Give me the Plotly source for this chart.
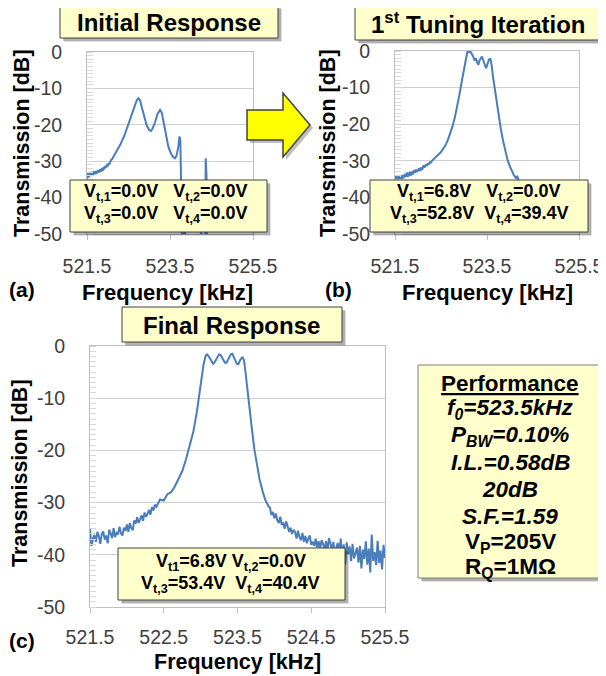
import plotly.graph_objects as go

# page has an 8px body margin: figure is drawn 8px in from the top-left corner
OFF = 8
W, H = 606 - OFF, 676 - OFF
def px(x): return (x - OFF) / W
def py(y): return 1 - (y - OFF) / H

BLUE = "#4A7EBB"
FONT = "Liberation Sans, Arial, sans-serif"

# ---------------- data: (a) initial response ----------------
freq_a = [521.50, 521.52, 521.54, 521.56, 521.58, 521.60, 521.62, 521.64, 521.66, 521.68,
          521.70, 521.72, 521.74, 521.76, 521.78, 521.80, 521.82, 521.84, 521.86, 521.88,
          521.90, 521.92, 521.94, 521.96, 521.98, 522.00, 522.02, 522.04, 522.06, 522.08,
          522.10, 522.20, 522.30, 522.40, 522.50, 522.58, 522.65, 522.70, 522.74, 522.78,
          522.82, 522.88, 522.94, 523.00, 523.04, 523.08, 523.14, 523.20, 523.26, 523.30,
          523.35, 523.40, 523.46, 523.52, 523.58, 523.62, 523.66, 523.70, 523.73, 523.75,
          523.77, 523.79, 523.85, 523.95, 524.05, 524.15, 524.25, 524.33, 524.35, 524.36,
          524.38, 524.39, 524.50, 524.80, 525.10, 525.50]
db_a = [-34.8, -33.2, -34.5, -33.9, -33.0, -34.1, -32.9, -33.8, -33.2, -32.7,
        -33.6, -32.8, -33.4, -32.4, -33.1, -32.6, -32.2, -32.9, -31.9, -32.6,
        -31.6, -32.2, -31.3, -31.8, -30.9, -31.4, -30.5, -30.9, -30.1, -29.6,
        -29.5, -27.5, -25.5, -23.0, -19.8, -16.8, -14.5, -13.2, -12.7, -13.3,
        -15.2, -17.9, -20.2, -21.5, -21.7, -21.0, -19.3, -17.0, -15.9, -16.6,
        -19.5, -23.0, -26.0, -27.8, -28.9, -29.2, -28.4, -26.0, -23.2, -24.5,
        -35.0, -52.0, -49.0, -54.0, -51.0, -55.0, -49.5, -53.0, -52.0, -29.2,
        -34.0, -55.0, -53.0, -56.0, -54.0, -55.0]

# ---------------- data: (b) 1st tuning iteration ----------------
freq_b = [521.50, 521.52, 521.54, 521.56, 521.58, 521.60, 521.62, 521.64, 521.66, 521.68,
          521.70, 521.72, 521.74, 521.76, 521.78, 521.80, 521.82, 521.84, 521.86, 521.88,
          521.90, 521.92, 521.94, 521.96, 521.98, 522.00, 522.02, 522.04, 522.06, 522.08,
          522.10, 522.12, 522.14, 522.16, 522.18, 522.20, 522.22, 522.24, 522.26, 522.28,
          522.30, 522.35, 522.40, 522.45, 522.50, 522.55, 522.60, 522.65, 522.70, 522.75,
          522.80, 522.85, 522.90, 522.95, 523.00, 523.04, 523.07, 523.09, 523.11, 523.14,
          523.17, 523.20, 523.23, 523.26, 523.28, 523.31, 523.34, 523.37, 523.39, 523.42,
          523.45, 523.48, 523.51, 523.54, 523.57, 523.60, 523.63, 523.67, 523.71, 523.75,
          523.80, 523.85, 523.90, 523.95, 524.00, 524.04, 524.08, 524.12, 524.16, 524.20,
          524.25, 524.30, 524.40, 524.60, 524.80, 525.00, 525.20, 525.50]
db_b = [-35.5, -34.2, -35.1, -34.6, -34.0, -35.3, -34.4, -35.0, -33.9, -34.8,
        -34.3, -33.6, -34.4, -33.2, -34.3, -33.7, -33.0, -34.1, -32.9, -33.8,
        -33.2, -32.5, -33.3, -32.4, -33.0, -32.6, -32.1, -32.8, -31.8, -32.5,
        -32.1, -31.2, -31.8, -31.4, -30.9, -31.4, -30.6, -31.0, -30.2, -30.6,
        -30.1, -29.4, -28.9, -28.2, -27.6, -26.8, -25.7, -24.3, -22.6, -20.6,
        -18.2, -15.4, -12.0, -8.4, -4.8, -1.8, -0.4, 0.0, -0.3, -0.2,
        -0.8, -1.5, -2.6, -2.0, -2.9, -3.8, -2.5, -1.6, -1.5, -2.6,
        -3.9, -4.7, -3.6, -2.4, -2.0, -3.8, -7.0, -10.7, -14.2, -17.5,
        -21.3, -24.6, -27.4, -29.9, -31.6, -32.9, -33.8, -34.6, -34.3, -35.8,
        -36.5, -37.5, -39.0, -41.0, -42.5, -43.5, -44.0, -44.5]

# ---------------- data: (c) final response ----------------
freq_c = [521.50, 521.52, 521.54, 521.56, 521.58, 521.60, 521.62, 521.64, 521.66, 521.68,
          521.70, 521.72, 521.74, 521.76, 521.78, 521.80, 521.82, 521.84, 521.86, 521.88,
          521.90, 521.92, 521.94, 521.96, 521.98, 522.00, 522.02, 522.04, 522.06, 522.08,
          522.10, 522.12, 522.14, 522.16, 522.18, 522.20, 522.22, 522.24, 522.26, 522.28,
          522.30, 522.32, 522.34, 522.36, 522.38, 522.40, 522.45, 522.50, 522.55, 522.60,
          522.65, 522.70, 522.75, 522.80, 522.85, 522.90, 522.95, 523.00, 523.04, 523.07,
          523.09, 523.12, 523.15, 523.17, 523.19, 523.22, 523.25, 523.27, 523.30, 523.33,
          523.35, 523.38, 523.41, 523.43, 523.46, 523.49, 523.51, 523.54, 523.57, 523.59,
          523.61, 523.63, 523.65, 523.67, 523.70, 523.73, 523.76, 523.80, 523.84, 523.88,
          523.92, 523.94, 523.96, 523.98, 524.00, 524.02, 524.04, 524.06, 524.08, 524.10,
          524.12, 524.14, 524.16, 524.18, 524.20, 524.22, 524.24, 524.26, 524.28, 524.30,
          524.32, 524.34, 524.36, 524.38, 524.40, 524.42, 524.44, 524.46, 524.48, 524.50,
          524.52, 524.54, 524.56, 524.58, 524.60, 524.62, 524.64, 524.66, 524.68, 524.70,
          524.72, 524.74, 524.76, 524.78, 524.80, 524.82, 524.84, 524.86, 524.88, 524.90,
          524.92, 524.94, 524.96, 524.98, 525.00, 525.02, 525.04, 525.06, 525.08, 525.10,
          525.12, 525.14, 525.16, 525.18, 525.20, 525.22, 525.24, 525.26, 525.28, 525.30,
          525.32, 525.34, 525.36, 525.38, 525.40, 525.42, 525.44, 525.46, 525.48, 525.50]
db_c = [-35.0, -38.3, -36.9, -36.2, -37.5, -35.6, -36.4, -37.9, -36.0, -35.5,
        -37.1, -36.3, -37.8, -35.2, -35.9, -36.8, -34.9, -36.6, -35.8, -36.1,
        -34.6, -35.9, -36.3, -34.8, -35.4, -34.2, -35.6, -33.9, -34.9, -35.3,
        -33.4, -34.0, -32.8, -33.9, -33.2, -32.4, -33.5, -31.9, -32.7, -32.2,
        -31.4, -32.3, -30.9, -31.5, -30.4, -30.8, -29.4, -29.6, -28.4, -28.0,
        -26.9, -25.6, -24.0, -21.8, -19.4, -16.5, -12.5, -7.8, -3.5, -1.8,
        -1.6, -2.2, -3.1, -3.4, -3.1, -2.2, -1.6, -1.7, -2.5, -3.2,
        -3.2, -2.4, -1.6, -1.5, -2.3, -3.4, -3.5, -2.6, -2.1, -2.9,
        -5.2, -8.0, -10.8, -13.2, -16.5, -19.9, -22.6, -25.6, -27.8, -29.6,
        -30.7, -31.0, -32.4, -31.8, -33.0, -32.1, -33.4, -33.9, -32.7, -34.3,
        -33.8, -35.0, -33.6, -34.4, -35.6, -34.8, -36.0, -35.2, -35.6, -36.9,
        -35.4, -36.6, -37.2, -35.8, -37.5, -36.4, -37.8, -36.9, -36.3, -38.1,
        -37.5, -38.3, -36.9, -38.6, -37.4, -38.9, -37.2, -37.9, -39.1, -37.4,
        -39.3, -36.8, -38.2, -39.0, -37.5, -40.2, -38.6, -37.7, -39.6, -36.9,
        -40.5, -38.0, -41.9, -37.6, -39.8, -38.4, -41.2, -37.9, -40.7, -39.3,
        -38.6, -41.5, -38.3, -42.6, -39.0, -40.8, -37.4, -41.9, -38.8, -43.4,
        -36.1, -41.2, -39.5, -42.0, -37.3, -41.6, -39.2, -42.8, -38.1, -40.6]

x_ticks_ab = [521.5, 523.5, 525.5]
x_ticks_c = [521.5, 522.5, 523.5, 524.5, 525.5]
y_ticks = [0, -10, -20, -30, -40, -50]

# ---------------- figure ----------------
fig = go.Figure()
for fx, fy, xa, ya in [(freq_a, db_a, "x", "y"), (freq_b, db_b, "x2", "y2"), (freq_c, db_c, "x3", "y3")]:
    fig.add_trace(go.Scatter(x=fx, y=fy, xaxis=xa, yaxis=ya, mode="lines",
                             line=dict(color=BLUE, width=2), showlegend=False, hoverinfo="skip"))

def xaxis(dom, ticks, standoff=10):
    return dict(domain=[px(dom[0]), px(dom[1])], range=[521.5, 525.5], tickvals=ticks,
                ticktext=[f"{t:.1f}" for t in ticks], showgrid=False, zeroline=False,
                showline=True, mirror=True, linecolor="#BFBFBF", linewidth=1,
                ticks="outside", ticklen=5, tickcolor="#BFBFBF",
                tickfont=dict(family=FONT, size=19.5, color="#404040"), ticklabelstandoff=standoff,
                automargin=False, fixedrange=True)

def yaxis(dom, anchor):
    return dict(domain=[py(dom[1]), py(dom[0])], range=[-50, 0], tickvals=y_ticks,
                ticktext=[str(t) for t in y_ticks],
                showgrid=True, gridcolor="#D0D0D0", gridwidth=1, zeroline=False,
                showline=True, mirror=True, linecolor="#BFBFBF", linewidth=1,
                ticks="", tickfont=dict(family=FONT, size=19.5, color="#404040"),
                ticklabelstandoff=20, anchor=anchor, automargin=False,
                minor=dict(dtick=1, ticks="inside", ticklen=6, tickcolor="#D9D9D9", showgrid=False),
                fixedrange=True)

fig.update_layout(
    width=W, height=H, autosize=False,
    margin=dict(l=0, r=0, t=0, b=0, pad=0),
    paper_bgcolor="white", plot_bgcolor="white",
    xaxis=dict(**xaxis((87, 253), x_ticks_ab), anchor="y"),
    yaxis=yaxis((52, 234), "x"),
    xaxis2=dict(**xaxis((395, 579), x_ticks_ab), anchor="y2"),
    yaxis2=yaxis((51, 234), "x2"),
    xaxis3=dict(**xaxis((90, 385), x_ticks_c, standoff=8), anchor="y3"),
    yaxis3=yaxis((346, 607), "x3"),
    showlegend=False,
)

shapes = []
annotations = []

def box(x0, y0, x1, y1, fill="#FFFFCC", line="#404040", shadow=3):
    for k, a in [(shadow + 1, 0.12), (shadow, 0.22)]:
        shapes.append(dict(type="rect", xref="paper", yref="paper", layer="above",
                           x0=px(x0 + k), x1=px(x1 + k), y0=py(y0 + k), y1=py(y1 + k),
                           fillcolor=f"rgba(0,0,0,{a})", line=dict(width=0)))
    shapes.append(dict(type="rect", xref="paper", yref="paper", layer="above",
                       x0=px(x0), x1=px(x1), y0=py(y0), y1=py(y1),
                       fillcolor=fill, line=dict(color=line, width=1)))

def text(x, y, s, size, color="#000000", xanchor="center", angle=0):
    annotations.append(dict(xref="paper", yref="paper", x=px(x), y=py(y), text=s,
                            showarrow=False, xanchor=xanchor, yanchor="middle", textangle=angle,
                            font=dict(family=FONT, size=size, color=color)))

# title boxes
box(60, 5, 278, 38)
text(169, 22, "<b>Initial Response</b>", 24)
box(355, 5, 602, 40)
text(478, 23, "<b>1<sup>st</sup> Tuning Iteration</b>", 24)
box(122, 307, 342, 342)
text(232, 325, "<b>Final Response</b>", 24)

# voltage boxes
NB = "\u00a0"
box(70, 180, 267, 232)
text(166, 193, f"<b>V<sub>t,1</sub>=0.0V{NB*3}V<sub>t,2</sub>=0.0V</b>", 18)
text(166, 214, f"<b>V<sub>t,3</sub>=0.0V{NB*3}V<sub>t,4</sub>=0.0V</b>", 18)
box(370, 180, 588, 232)
text(479, 193, f"<b>V<sub>t,1</sub>=6.8V{NB*3}V<sub>t,2</sub>=0.0V</b>", 18)
text(479, 214, f"<b>V<sub>t,3</sub>=52.8V{NB*2}V<sub>t,4</sub>=39.4V</b>", 18)
box(118, 548, 345, 600)
text(231, 562, f"<b>V<sub>t1</sub>=6.8V{NB}V<sub>t,2</sub>=0.0V</b>", 18)
text(231, 584, f"<b>V<sub>t,3</sub>=53.4V{NB*2}V<sub>t,4</sub>=40.4V</b>", 18)

# performance box
box(418, 365, 602, 578, line="#7F7F7F")
perf = ["<b><u>Performance</u></b>",
        "<b><i>f<sub>0</sub>=523.5kHz</i></b>",
        "<b><i>P<sub>BW</sub>=0.10%</i></b>",
        "<b><i>I.L.=0.58dB</i></b>",
        "<b><i>20dB</i></b>",
        "<b><i>S.F.=1.59</i></b>",
        "<b>V<sub>P</sub>=205V</b>",
        "<b>R<sub>Q</sub>=1MΩ</b>"]
perf_y = [383, 409, 436, 463, 489, 516, 543, 568]
for s, yy in zip(perf, perf_y):
    text(510, yy, s, 22.5)

# arrow
pts = [(247, 110), (283, 110), (283, 93), (310, 125), (283, 157), (283, 140), (247, 140)]
def path(points, dx=0, dy=0):
    return "M " + " L ".join(f"{px(x + dx)},{py(y + dy)}" for x, y in points) + " Z"
shapes.append(dict(type="path", xref="paper", yref="paper", layer="above",
                   path=path(pts, 3, 3), fillcolor="rgba(0,0,0,0.25)", line=dict(width=0)))
shapes.append(dict(type="path", xref="paper", yref="paper", layer="above",
                   path=path(pts), fillcolor="#FFFF00", line=dict(color="#404040", width=1.5)))

# axis titles and panel labels
for xx, yy in [(22, 143), (328, 143), (20, 473)]:
    text(xx, yy, "<b>Transmission [dB]</b>", 21.5, angle=-90)
for xx, yy in [(167, 292), (487, 292)]:
    text(xx, yy, "<b>Frequency [kHz]</b>", 22)
text(237, 662, "<b>Frequency [kHz]</b>", 21.5)
text(22, 290, "<b>(a)</b>", 21)
text(338, 290, "<b>(b)</b>", 21)
text(22, 640, "<b>(c)</b>", 21)

fig.update_layout(shapes=shapes, annotations=annotations)
fig.write_html("out.html")
